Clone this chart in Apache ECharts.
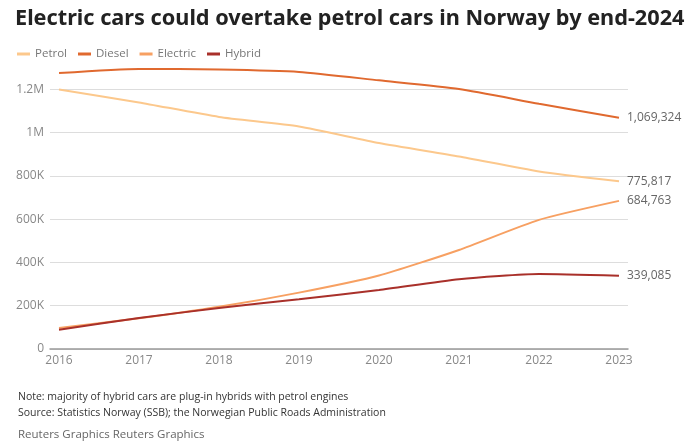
<!DOCTYPE html>
<html>
<head>
<meta charset="utf-8">
<script src="https://cdn.jsdelivr.net/npm/echarts@6/dist/echarts.min.js"></script>
<style>
  html, body { margin: 0; padding: 0; background: #fff; }
  #chart { width: 700px; height: 448px; }
</style>
</head>
<body>
<div id="chart"></div>
<script>
const years = [2016, 2017, 2018, 2019, 2020, 2021, 2022, 2023];
const petrol   = [1200000, 1140000, 1073000, 1029000, 952000, 890000, 821000, 775817];
const diesel   = [1276000, 1295000, 1292000, 1281000, 1242000, 1202000, 1134000, 1069324];
const electric = [97500, 142000, 195000, 260700, 340000, 458000, 597000, 684763];
const hybrid   = [89000, 143000, 190000, 230000, 273000, 323000, 347000, 339085];
const yTicks = { 0: '0', 200000: '200K', 400000: '400K', 600000: '600K', 800000: '800K', 1000000: '1M', 1200000: '1.2M' };

const font = "'Open Sans', 'Noto Sans', sans-serif";
const chart = echarts.init(document.getElementById('chart'));

function line(name, data, color) {
  return {
    name, type: 'line',
    data: years.map((y, i) => [y, data[i]]),
    smooth: 0.2,
    symbol: 'none',
    lineStyle: { color, width: 2 },
    itemStyle: { color },
    endLabel: {
      show: true, color: '#666', fontSize: 12, fontFamily: font, distance: 8,
      formatter: p => p.value[1].toLocaleString('en-US')
    }
  };
}

chart.setOption({
  animation: false,
  title: {
    text: 'Electric cars could overtake petrol cars in Norway by end-2024',
    left: 10, top: 3,
    textStyle: { fontFamily: "'Noto Sans', sans-serif", fontWeight: 'bold', fontSize: 21.7, color: '#222' }
  },
  legend: {
    left: 12, top: 43, icon: 'rect', itemWidth: 13, itemHeight: 3, itemGap: 11,
    textStyle: { color: '#777', fontSize: 11.5, fontFamily: font }
  },
  grid: { left: 50, right: 72, top: 57, bottom: 99 },
  xAxis: {
    type: 'value', min: 2015.8875, max: 2023.1125,
    axisLine: { lineStyle: { color: '#999', width: 1.5 } },
    axisTick: { show: false },
    splitLine: { show: false },
    axisLabel: { customValues: years, color: '#888', fontSize: 12, fontFamily: font, margin: 6, formatter: v => String(v) }
  },
  yAxis: {
    type: 'value', min: 0, max: 1350000, interval: 200000,
    axisLine: { show: false }, axisTick: { show: false },
    splitLine: { showMaxLine: false, lineStyle: { color: '#ddd' } },
    axisLabel: { showMaxLabel: false, color: '#888', fontSize: 12, fontFamily: font, margin: 6,
      formatter: v => yTicks[v] ?? '' }
  },
  series: [
    line('Petrol', petrol, '#fcc88c'),
    line('Diesel', diesel, '#e0692f'),
    line('Electric', electric, '#f7a062'),
    line('Hybrid', hybrid, '#a9302a')
  ],
  graphic: [
    { type: 'text', left: 18, top: 392, style: { text: 'Note: majority of hybrid cars are plug-in hybrids with petrol engines', fill: '#333', fontSize: 10.5, fontFamily: font } },
    { type: 'text', left: 18, top: 408, style: { text: 'Source: Statistics Norway (SSB); the Norwegian Public Roads Administration', fill: '#333', fontSize: 10.5, fontFamily: font } },
    { type: 'text', left: 18, top: 429, style: { text: 'Reuters Graphics Reuters Graphics', fill: '#666', fontSize: 11.5, fontFamily: font } }
  ]
});
</script>
</body>
</html>
